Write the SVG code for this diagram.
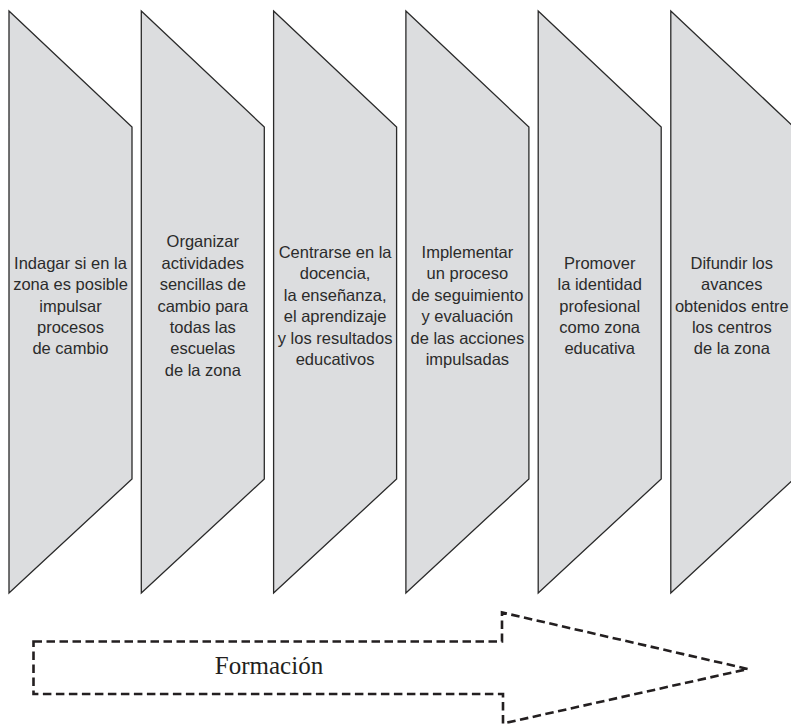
<svg xmlns="http://www.w3.org/2000/svg" width="791" height="726" viewBox="0 0 791 726">
<style>
.step{fill:#dcdddf;stroke:#2a2a2a;stroke-width:1.3;stroke-linejoin:miter}
.lbl{font-family:"Liberation Sans",Arial,sans-serif;font-size:16.5px;fill:#2b2b2b;text-anchor:middle}
.arrow{fill:none;stroke:#231f20;stroke-width:2.6;stroke-dasharray:8.5 4.5}
.flbl{font-family:"Liberation Serif","Times New Roman",serif;font-size:25px;fill:#231f20;text-anchor:middle}
</style>
<g id="step1">
<polygon class="step" points="9,11 132,127 132,479 9,593"/>
<text class="lbl" y="268.8"><tspan x="70.5">Indagar si en la</tspan><tspan x="70.5" dy="21.35">zona es posible</tspan><tspan x="70.5" dy="21.35">impulsar</tspan><tspan x="70.5" dy="21.35">procesos</tspan><tspan x="70.5" dy="21.35">de cambio</tspan></text>
</g>
<g id="step2">
<polygon class="step" points="141.3,11 264.3,127 264.3,479 141.3,593"/>
<text class="lbl" y="247.45"><tspan x="202.8">Organizar</tspan><tspan x="202.8" dy="21.35">actividades</tspan><tspan x="202.8" dy="21.35">sencillas de</tspan><tspan x="202.8" dy="21.35">cambio para</tspan><tspan x="202.8" dy="21.35">todas las</tspan><tspan x="202.8" dy="21.35">escuelas</tspan><tspan x="202.8" dy="21.35">de la zona</tspan></text>
</g>
<g id="step3">
<polygon class="step" points="273.6,11 396.6,127 396.6,479 273.6,593"/>
<text class="lbl" y="258.1"><tspan x="335.1">Centrarse en la</tspan><tspan x="335.1" dy="21.35">docencia,</tspan><tspan x="335.1" dy="21.35">la enseñanza,</tspan><tspan x="335.1" dy="21.35">el aprendizaje</tspan><tspan x="335.1" dy="21.35">y los resultados</tspan><tspan x="335.1" dy="21.35">educativos</tspan></text>
</g>
<g id="step4">
<polygon class="step" points="405.9,11 528.9,127 528.9,479 405.9,593"/>
<text class="lbl" y="258.1"><tspan x="467.4">Implementar</tspan><tspan x="467.4" dy="21.35">un proceso</tspan><tspan x="467.4" dy="21.35">de seguimiento</tspan><tspan x="467.4" dy="21.35">y evaluación</tspan><tspan x="467.4" dy="21.35">de las acciones</tspan><tspan x="467.4" dy="21.35">impulsadas</tspan></text>
</g>
<g id="step5">
<polygon class="step" points="538.2,11 661.2,127 661.2,479 538.2,593"/>
<text class="lbl" y="268.8"><tspan x="599.7">Promover</tspan><tspan x="599.7" dy="21.35">la identidad</tspan><tspan x="599.7" dy="21.35">profesional</tspan><tspan x="599.7" dy="21.35">como zona</tspan><tspan x="599.7" dy="21.35">educativa</tspan></text>
</g>
<g id="step6">
<polygon class="step" points="670.8,11 793.8,127 793.8,479 670.8,593"/>
<text class="lbl" y="268.8"><tspan x="731.8">Difundir los</tspan><tspan x="731.8" dy="21.35">avances</tspan><tspan x="731.8" dy="21.35">obtenidos entre</tspan><tspan x="731.8" dy="21.35">los centros</tspan><tspan x="731.8" dy="21.35">de la zona</tspan></text>
</g>
<g id="connectors">
<g id="formacion">
<polygon class="arrow" points="33.5,641.5 502,641.5 502,612.5 748,669 503,723.5 503,694 33.5,694"/>
<text class="flbl" x="269" y="673.5">Formación</text>
</g>
</g>
</svg>
